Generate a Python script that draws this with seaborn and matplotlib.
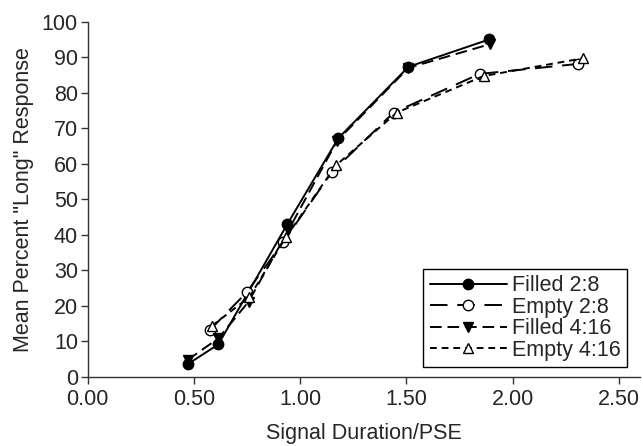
import matplotlib
matplotlib.use("Agg")
import matplotlib.pyplot as plt
import seaborn as sns
import pandas as pd

# Data
filled_2_8_x = [0.47, 0.615, 0.94, 1.18, 1.51, 1.89]
filled_2_8_y = [3.5, 9.1, 43.0, 67.2, 87.3, 95.0]

empty_2_8_x = [0.576, 0.749, 0.921, 1.15, 1.44, 1.845, 2.306]
empty_2_8_y = [13.2, 23.8, 38.0, 57.7, 74.4, 85.3, 88.1]

filled_4_16_x = [0.47, 0.615, 0.757, 0.945, 1.175, 1.51, 1.895]
filled_4_16_y = [4.7, 10.8, 21.1, 41.3, 66.5, 87.0, 93.7]

empty_4_16_x = [0.584, 0.761, 0.933, 1.17, 1.455, 1.864, 2.332]
empty_4_16_y = [14.3, 22.4, 39.3, 59.6, 74.4, 84.7, 89.7]

series_names = ["Filled 2:8", "Empty 2:8", "Filled 4:16", "Empty 4:16"]
x_ticks = [0.0, 0.5, 1.0, 1.5, 2.0, 2.5]
y_ticks = [0, 10, 20, 30, 40, 50, 60, 70, 80, 90, 100]

sns.set_style("ticks")
plt.rcParams["font.family"] = ["Liberation Sans", "DejaVu Sans"]

FS = 15.5

fig = plt.figure(figsize=(6.43, 4.46), dpi=100)
ax = fig.add_axes([0.1364, 0.1554, 0.8589, 0.7959])

series = [
    (filled_2_8_x, filled_2_8_y, "o", "black", (None, None)),
    (empty_2_8_x, empty_2_8_y, "o", "white", (9, 5)),
    (filled_4_16_x, filled_4_16_y, "v", "black", (6, 3)),
    (empty_4_16_x, empty_4_16_y, "^", "white", (3.5, 2.5)),
]

for name, (xs, ys, mk, fc, dash) in zip(series_names, series):
    df = pd.DataFrame({"x": xs, "y": ys})
    sns.lineplot(data=df, x="x", y="y", ax=ax, color="black",
                 marker=mk, markersize=7.5, markerfacecolor=fc,
                 markeredgecolor="black", markeredgewidth=1.0,
                 linewidth=1.4, label=name, sort=False)
    l = ax.get_lines()[-1]
    if dash[0] is not None:
        l.set_dashes(dash)

ax.set_xlim(0, 2.60)
ax.set_ylim(0, 100)
ax.set_xticks(x_ticks)
ax.set_xticklabels([f"{v:.2f}" for v in x_ticks])
ax.set_yticks(y_ticks)
ax.set_xlabel("Signal Duration/PSE", fontsize=FS, labelpad=9)
ax.set_ylabel('Mean Percent "Long" Response', fontsize=FS, labelpad=6)
ax.tick_params(axis="both", labelsize=FS, length=5, width=1, color="#333333",
               direction="out", pad=2)
ax.tick_params(axis="x", pad=4)
for s in ["left", "bottom"]:
    ax.spines[s].set_color("#333333")
    ax.spines[s].set_linewidth(1.0)
sns.despine(ax=ax)

leg = ax.legend(loc="lower right", bbox_to_anchor=(0.976, 0.027),
                borderaxespad=0, fontsize=FS, frameon=True, fancybox=False,
                handlelength=3.6, handletextpad=0.2, labelspacing=0.02,
                borderpad=0.3)
leg.get_frame().set_edgecolor("black")
leg.get_frame().set_linewidth(1.0)
leg.get_frame().set_alpha(1)

fig.savefig("out.png", dpi=100)
